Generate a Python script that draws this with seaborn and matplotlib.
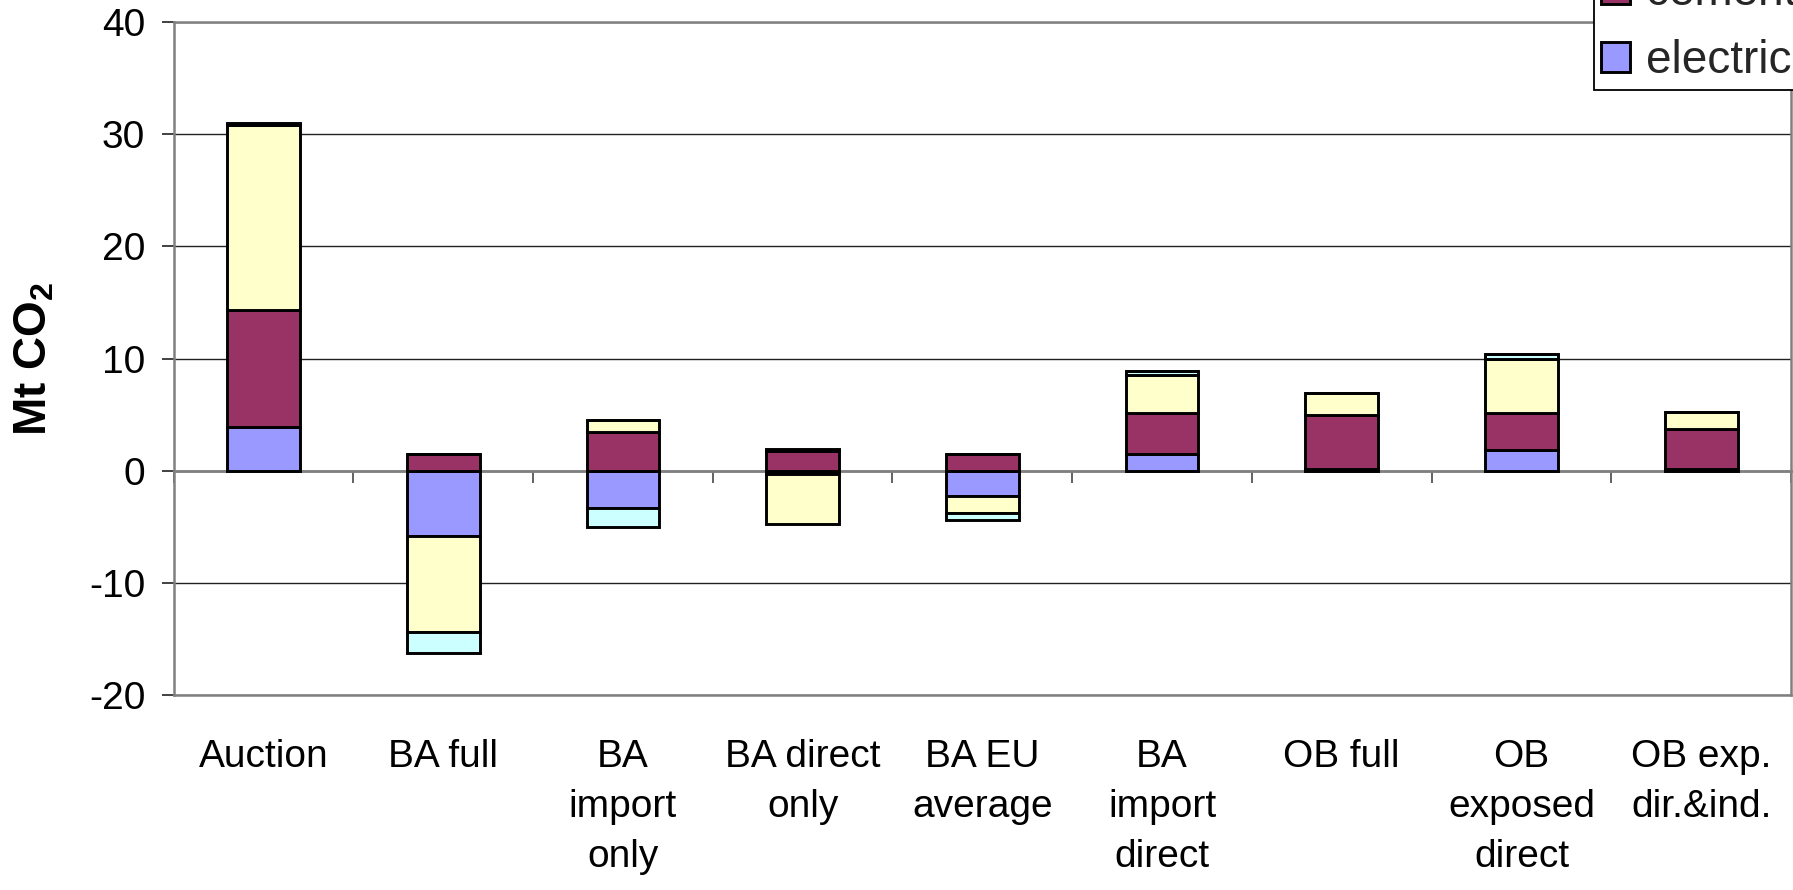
import numpy as np
import pandas as pd
import matplotlib
matplotlib.use("Agg")
import matplotlib.pyplot as plt
import seaborn as sns

# Change in emissions by policy scenario and sector (Mt CO2)
categories = ["Auction", "BA full", "BA\nimport\nonly", "BA direct\nonly", "BA EU\naverage",
              "BA\nimport\ndirect", "OB full", "OB\nexposed\ndirect", "OB exp.\ndir.&ind."]
electricity = [3.93, -5.83, -3.36, -0.30, -2.26, 1.46, 0.12, 1.85, 0.12]
cement = [10.40, 1.49, 3.48, 1.78, 1.46, 3.71, 4.85, 3.32, 3.60]
steel = [16.50, -8.53, 1.04, -4.48, -1.49, 3.37, 1.93, 4.79, 1.49]
aluminium = [0.0, -1.93, -1.64, 0.0, -0.65, 0.38, 0.0, 0.42, 0.0]
other = [0.20, 0.0, 0.0, 0.15, 0.0, 0.0, 0.0, 0.0, 0.0]

series_names = ["electricity", "cement", "steel", "aluminium", "other"]
series_values = [electricity, cement, steel, aluminium, other]
series_colors = ["#9999FF", "#993366", "#FFFFCC", "#CCFFFF", "#660066"]
legend_series = ["cement", "electricity"]
y_ticks = [-20, -10, 0, 10, 20, 30, 40]

sns.set_theme(style="white")
plt.rcParams["font.family"] = ["Liberation Sans", "DejaVu Sans"]
plt.rcParams["mathtext.fontset"] = "custom"
plt.rcParams["mathtext.rm"] = "Liberation Sans"
plt.rcParams["mathtext.bf"] = "Liberation Sans:bold"

W, H = 1793, 890
fig = plt.figure(figsize=(W / 100, H / 100), dpi=100)
ax = fig.add_axes([173.7 / W, 1 - 695 / H, (1791 - 173.7) / W, (695 - 22) / H])

# Stack positives upward and negatives downward, in series order
pos_base = np.zeros(len(categories))
neg_base = np.zeros(len(categories))
for name, vals, col in zip(series_names, series_values, series_colors):
    v = np.asarray(vals, dtype=float)
    base = np.where(v >= 0, pos_base, neg_base)
    df = pd.DataFrame({"scenario": categories, "value": v})
    sns.barplot(data=df, x="scenario", y="value", order=categories, ax=ax,
                color=col, saturation=1, width=0.405, bottom=base,
                edgecolor="black", linewidth=2.1, label=name, errorbar=None,
                zorder=2)
    pos_base = pos_base + np.clip(v, 0, None)
    neg_base = neg_base + np.clip(v, None, 0)

ax.set_xlim(-0.5, len(categories) - 0.5)
ax.set_ylim(-20, 40)
ax.set_yticks(y_ticks)
ax.set_yticklabels([str(t) for t in y_ticks])
ax.set_axisbelow(True)
ax.yaxis.grid(True, color="#222222", linewidth=1.0)
ax.xaxis.grid(False)

for side in ["left", "right", "top", "bottom"]:
    ax.spines[side].set_visible(True)
    ax.spines[side].set_color("#808080")
    ax.spines[side].set_linewidth(1.8)

ax.tick_params(axis="y", which="major", direction="out", length=8.5, width=1.3,
               color="#333333", labelsize=28, labelcolor="black", pad=12, left=True)
ax.tick_params(axis="x", which="major", length=0, labelsize=28, labelcolor="black", pad=32)
for lbl in ax.get_xticklabels():
    lbl.set_linespacing(1.5)
    lbl.set_horizontalalignment("center")

ax.set_xlabel("")
ax.set_ylabel(r"Mt CO$_\mathbf{2}$", fontsize=33, fontweight="bold", color="black")
ax.yaxis.set_label_coords(-0.0724, 0.5)

# Category axis crossing at zero with tick marks between groups
zero_frac = (0 - (-20)) / (40 - (-20))
sec = ax.secondary_xaxis(zero_frac)
sec.set_zorder(0.8)
sec.set_xticks(np.arange(-0.5, len(categories), 1.0))
sec.set_xticklabels([])
sec.tick_params(axis="x", direction="out", length=8.5, width=1.3, color="#555555")
for s in sec.spines.values():
    s.set_color("#808080")
    s.set_linewidth(2.0)

handles, labels = ax.get_legend_handles_labels()
lookup = dict(zip(labels, handles))
leg = ax.legend([lookup[n] for n in legend_series], legend_series, loc="lower left",
                bbox_to_anchor=(1594 / W, 1 - 90 / H), bbox_transform=fig.transFigure,
                fontsize=33, frameon=True, fancybox=False, framealpha=1,
                edgecolor="black", borderpad=0.15, handlelength=0.63, handleheight=0.63,
                handletextpad=0.35, labelspacing=0.52, borderaxespad=0)
leg.get_frame().set_linewidth(1.3)
leg.set_zorder(10)

fig.savefig("out.png", dpi=100, facecolor="white")
